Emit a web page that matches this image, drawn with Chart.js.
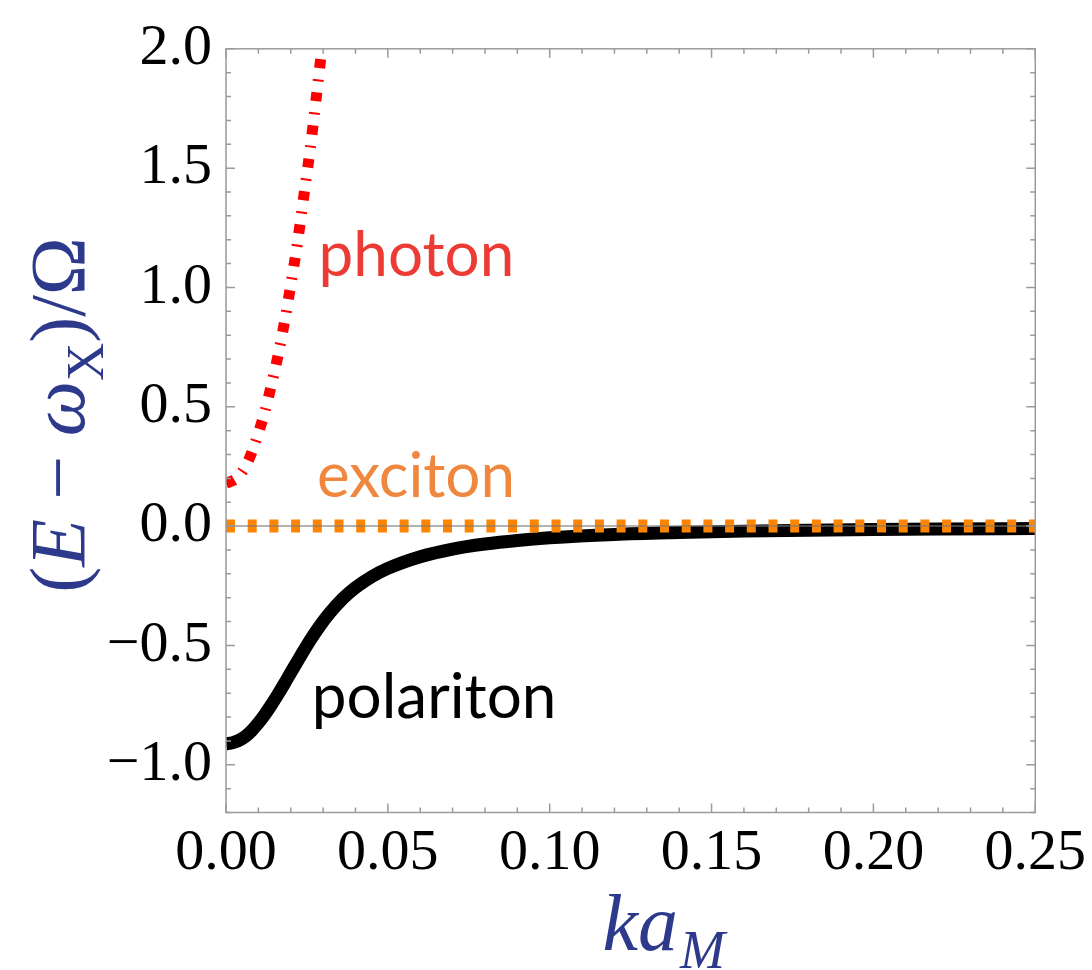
<!DOCTYPE html>
<html>
<head>
<meta charset="utf-8">
<script src="https://cdn.jsdelivr.net/npm/chart.js@4.4.1/dist/chart.umd.min.js"></script>
<style>
  html, body { margin: 0; padding: 0; background: #ffffff; }
  #wrap { width: 1092px; height: 970px; position: relative; }
</style>
</head>
<body>
<div id="wrap"><canvas id="c" width="1092" height="970"></canvas></div>
<script>
// ---- data ----
const photonK = [0, 0.002, 0.004, 0.006, 0.008, 0.010, 0.012, 0.014, 0.016, 0.018, 0.020, 0.022, 0.024, 0.026, 0.028, 0.0296];
const photonE = [0.18, 0.19, 0.21, 0.25, 0.31, 0.39, 0.48, 0.59, 0.71, 0.85, 1.01, 1.18, 1.38, 1.58, 1.81, 2.0];

const polaritonK = [0, 0.002, 0.004, 0.006, 0.008, 0.010, 0.012, 0.014, 0.016, 0.018, 0.020, 0.023, 0.026, 0.029, 0.032, 0.036, 0.040, 0.045, 0.050, 0.060, 0.070, 0.080, 0.090, 0.100, 0.120, 0.140, 0.160, 0.180, 0.200, 0.220, 0.250];
const polaritonE = [-0.912, -0.908, -0.898, -0.881, -0.856, -0.825, -0.789, -0.749, -0.706, -0.661, -0.614, -0.545, -0.478, -0.418, -0.365, -0.305, -0.258, -0.212, -0.177, -0.128, -0.096, -0.075, -0.06, -0.049, -0.035, -0.027, -0.021, -0.017, -0.014, -0.012, -0.010];

const excitonK = [0, 0.25];
const excitonE = [0, 0];

const xTickValues = [0, 0.05, 0.10, 0.15, 0.20, 0.25];
const yTickValues = [-1.0, -0.5, 0.0, 0.5, 1.0, 1.5, 2.0];

const curveLabels = [
  { text: 'photon',    k: 0.0286, e: 1.05,   color: '#ec3a34' },
  { text: 'exciton',   k: 0.0281, e: 0.124,  color: '#f0873f' },
  { text: 'polariton', k: 0.0265, e: -0.806, color: '#000000' }
];

// ---- helpers ----
const toXY = (ks, es) => ks.map((k, i) => ({ x: k, y: es[i] }));
const fmtY = v => (v < 0 ? '\u2212' : '') + Math.abs(v).toFixed(1);
const fmtX = v => v.toFixed(2);
const TITLE_BLUE = '#2d3a8c';
const FRAME_GRAY = '#9b9b9b';

// Frame + inward ticks on all four sides (Mathematica style)
const framePlugin = {
  id: 'frameTicks',
  afterDatasetsDraw(chart) {
    const { ctx, chartArea: a, scales } = chart;
    const xs = scales.x, ys = scales.y;
    ctx.save();
    // zero axis line
    ctx.strokeStyle = 'rgba(120,120,120,0.75)';
    ctx.lineWidth = 1.5;
    const y0 = ys.getPixelForValue(0);
    ctx.beginPath(); ctx.moveTo(a.left, y0); ctx.lineTo(a.right, y0); ctx.stroke();

    ctx.strokeStyle = FRAME_GRAY;
    ctx.lineWidth = 1.5;
    ctx.strokeRect(a.left, a.top, a.right - a.left, a.bottom - a.top);
    ctx.beginPath();
    // x ticks
    for (let i = 0; i <= 25; i++) {
      const v = i * 0.01;
      const px = xs.getPixelForValue(v);
      const len = (i % 5 === 0) ? 9 : 5;
      ctx.moveTo(px, a.bottom); ctx.lineTo(px, a.bottom - len);
      ctx.moveTo(px, a.top); ctx.lineTo(px, a.top + len);
    }
    // y ticks
    for (let i = -12; i <= 20; i++) {
      const v = i * 0.1;
      const py = ys.getPixelForValue(v);
      const len = (i % 5 === 0) ? 9 : 5;
      ctx.moveTo(a.left, py); ctx.lineTo(a.left + len, py);
      ctx.moveTo(a.right, py); ctx.lineTo(a.right - len, py);
    }
    ctx.stroke();

    // curve labels
    ctx.font = '62px Lato, "Open Sans", sans-serif';
    ctx.textAlign = 'left';
    ctx.textBaseline = 'alphabetic';
    curveLabels.forEach(l => {
      ctx.fillStyle = l.color;
      ctx.fillText(l.text, xs.getPixelForValue(l.k), ys.getPixelForValue(l.e));
    });
    ctx.restore();
  },
  afterDraw(chart) {
    const { ctx, chartArea: a } = chart;
    ctx.save();
    ctx.fillStyle = TITLE_BLUE;
    ctx.textBaseline = 'alphabetic';
    ctx.textAlign = 'left';
    const serif = '"Liberation Serif", "DejaVu Serif", serif';

    // x title: k a_M
    const fMain = 'italic 80px ' + serif;
    const fSub = 'italic 54px ' + serif;
    ctx.font = fMain;
    const wka = ctx.measureText('ka').width;
    ctx.font = fSub;
    const wM = ctx.measureText('M').width;
    const cx = (a.left + a.right) / 2 + 33;
    let x = cx - (wka + 2 + wM) / 2;
    const by = 950;
    ctx.font = fMain; ctx.fillText('ka', x, by);
    ctx.font = fSub; ctx.fillText('M', x + wka + 2, by + 18);

    // y title: (E − ω_X)/Ω rotated
    const parts = [
      { t: '(', f: '78px ' + serif, dy: 0 },
      { t: 'E', f: 'italic 78px ' + serif, dy: 0 },
      { t: ' \u2212 ', f: '78px ' + serif, dy: 0 },
      { t: '\u03c9', f: 'italic 78px ' + serif, dy: 0 },
      { t: 'X', f: '53px ' + serif, dy: 19 },
      { t: ')/\u03a9', f: '78px ' + serif, dy: 0 }
    ];
    let total = 0;
    parts.forEach(p => { ctx.font = p.f; p.w = ctx.measureText(p.t).width; total += p.w; });
    ctx.translate(84, 415);
    ctx.rotate(-Math.PI / 2);
    let lx = -total / 2;
    parts.forEach(p => { ctx.font = p.f; ctx.fillText(p.t, lx, p.dy); lx += p.w; });
    ctx.restore();
  }
};

new Chart(document.getElementById('c'), {
  type: 'scatter',
  data: {
    datasets: [
      {
        label: 'polariton',
        data: toXY(polaritonK, polaritonE),
        showLine: true,
        borderColor: '#000000',
        borderWidth: 13,
        pointRadius: 0,
        cubicInterpolationMode: 'monotone',
        borderJoinStyle: 'round',
        clip: 0,
        order: 3
      },
      {
        label: 'exciton',
        data: toXY(excitonK, excitonE),
        showLine: true,
        borderColor: '#ff8400',
        borderWidth: 13,
        borderDash: [9, 12.7],
        borderCapStyle: 'butt',
        pointRadius: 0,
        clip: 0,
        order: 2
      },
      {
        label: 'photon',
        data: toXY(photonK, photonE),
        showLine: true,
        borderColor: '#ff0000',
        borderWidth: 11,
        borderDash: [9, 11, 2, 11.3],
        borderCapStyle: 'butt',
        pointRadius: 0,
        cubicInterpolationMode: 'monotone',
        clip: 0,
        order: 1
      }
    ]
  },
  options: {
    responsive: false,
    animation: false,
    devicePixelRatio: 1,
    layout: { padding: { top: 38, right: 55, left: 0, bottom: 0 } },
    plugins: { legend: { display: false }, tooltip: { enabled: false }, title: { display: false } },
    scales: {
      x: {
        type: 'linear',
        min: 0, max: 0.25,
        afterBuildTicks: s => { s.ticks = xTickValues.map(v => ({ value: v })); },
        afterFit: s => { s.height = 157.5; },
        ticks: {
          callback: v => fmtX(v),
          font: { family: '"Liberation Serif", serif', size: 58 },
          color: '#000000',
          padding: 6,
          maxRotation: 0,
          autoSkip: false
        },
        grid: { display: false, drawTicks: false },
        border: { display: false }
      },
      y: {
        type: 'linear',
        min: -1.2, max: 2.0,
        afterBuildTicks: s => { s.ticks = yTickValues.map(v => ({ value: v })); },
        afterFit: s => { s.width = 226; },
        ticks: {
          callback: v => fmtY(v),
          font: { family: '"Liberation Serif", serif', size: 58 },
          color: '#000000',
          padding: 14,
          autoSkip: false
        },
        grid: { display: false, drawTicks: false },
        border: { display: false }
      }
    }
  },
  plugins: [framePlugin]
});
</script>
</body>
</html>
